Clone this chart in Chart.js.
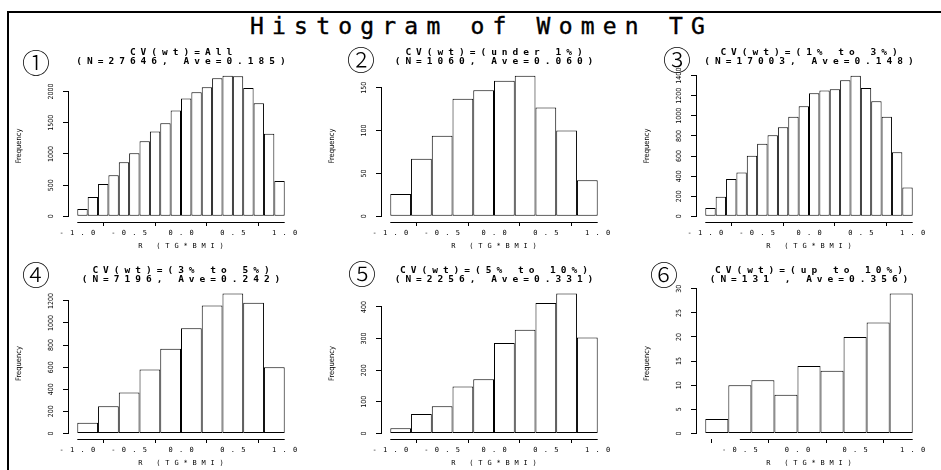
<!DOCTYPE html>
<html>
<head>
<meta charset="utf-8">
<script src="https://cdn.jsdelivr.net/npm/chart.js@4.4.1/dist/chart.umd.min.js"></script>
<style>
  html, body { margin: 0; padding: 0; background: #fff; }
  body { position: relative; width: 941px; height: 470px; overflow: hidden; }
  #frame { position: absolute; left: 7px; top: 11px; width: 960px; height: 480px;
           border-top: 2px solid #000; border-left: 2px solid #000; }
  #title { position: absolute; left: 11px; top: 15px; width: 941px; text-align: center;
           font: 23px/22px "DejaVu Sans Mono", monospace; letter-spacing: 8.2px; white-space: pre; color: #000;
           -webkit-text-stroke: 0.4px #000; }
  .panel { position: absolute; }
  .num { position: absolute; width: 40px; height: 40px; line-height: 40px; text-align: center;
         font-size: 28px; font-weight: 300; font-family: "Noto Sans CJK JP", "DejaVu Sans", sans-serif; color: #000; z-index: 2; }
</style>
</head>
<body>
<div id="frame"></div>
<div id="title">Histogram of Women TG</div>
<div id="charts"></div>
<script>
// bin centres (width 0.1 or 0.2)
const bins20 = [-0.95, -0.85, -0.75, -0.65, -0.55, -0.45, -0.35, -0.25, -0.15, -0.05,
                0.05, 0.15, 0.25, 0.35, 0.45, 0.55, 0.65, 0.75, 0.85, 0.95];
const bins10 = [-0.9, -0.7, -0.5, -0.3, -0.1, 0.1, 0.3, 0.5, 0.7, 0.9];
const bins9 = [-0.7, -0.5, -0.3, -0.1, 0.1, 0.3, 0.5, 0.7, 0.9];

// frequencies
const countsAll = [117, 309, 517, 661, 869, 1013, 1205, 1360, 1493, 1696,
                   1888, 1989, 2069, 2213, 2256, 2245, 2059, 1813, 1323, 565];
const countsUnder1 = [26, 67, 94, 137, 147, 158, 164, 127, 100, 42];
const counts1to3 = [83, 195, 371, 437, 602, 722, 808, 887, 990, 1096,
                    1225, 1252, 1265, 1354, 1400, 1278, 1146, 990, 639, 288];
const counts3to5 = [96, 247, 371, 579, 766, 953, 1158, 1266, 1182, 600];
const counts5to10 = [16, 61, 86, 148, 171, 286, 328, 412, 442, 303];
const countsUp10 = [3, 10, 11, 8, 14, 13, 20, 23, 29];

// axis ticks
const xTicksFull = [-1, -0.5, 0, 0.5, 1];
const xLabelsFull = ['-1.0', '-0.5', '0.0', '0.5', '1.0'];
const xTicksShort = [-0.5, 0, 0.5, 1];
const xLabelsShort = ['-0.5', '0.0', '0.5', '1.0'];
const xLimFull = [-1, 1];
const xLimShort = [-0.8, 1];
const yTicksAll = [0, 500, 1000, 1500, 2000];
const yTicksUnder1 = [0, 50, 100, 150];
const yTicks1to3 = [0, 200, 400, 600, 800, 1000, 1200, 1400];
const yTicks3to5 = [0, 200, 400, 600, 800, 1000, 1200];
const yTicks5to10 = [0, 100, 200, 300, 400];
const yTicksUp10 = [0, 5, 10, 15, 20, 25, 30];

const titleLines1 = ['CV(wt)=All', 'CV(wt)=(under 1%)', 'CV(wt)=(1% to 3%)',
                     'CV(wt)=(3% to 5%)', 'CV(wt)=(5% to 10%)', 'CV(wt)=(up to 10%)'];
const titleLines2 = ['(N=27646, Ave=0.185)', '(N=1060, Ave=0.060)', '(N=17003, Ave=0.148)',
                     '(N=7196, Ave=0.242)', '(N=2256, Ave=0.331)', '(N=131 , Ave=0.356)'];
const panelNums = ['①', '②', '③', '④', '⑤', '⑥'];
const xTitle = 'R (TG*BMI)';
const yTitle = 'Frequency';

const panels = [
  { bins: bins20, counts: countsAll, xLim: xLimFull, xTicks: xTicksFull, xLabels: xLabelsFull, yTicks: yTicksAll },
  { bins: bins10, counts: countsUnder1, xLim: xLimFull, xTicks: xTicksFull, xLabels: xLabelsFull, yTicks: yTicksUnder1 },
  { bins: bins20, counts: counts1to3, xLim: xLimFull, xTicks: xTicksFull, xLabels: xLabelsFull, yTicks: yTicks1to3 },
  { bins: bins10, counts: counts3to5, xLim: xLimFull, xTicks: xTicksFull, xLabels: xLabelsFull, yTicks: yTicks3to5 },
  { bins: bins10, counts: counts5to10, xLim: xLimFull, xTicks: xTicksFull, xLabels: xLabelsFull, yTicks: yTicks5to10 },
  { bins: bins9, counts: countsUp10, xLim: xLimShort, xTicks: xTicksShort, xLabels: xLabelsShort, yTicks: yTicksUp10 },
];

// plot-area placement on the page: left, top, height
const areas = [[69, 70, 152], [382, 70, 152], [697, 70, 152], [69, 288, 151], [382, 288, 151], [697, 288, 151]];
const AREA_W = 224;
const ML = 60, MT = 30, MR = 10, MB = 34;
const numPos = [[36, 63], [361, 60], [677, 60], [36, 275], [362, 274], [664, 275]];

function spacedText(ctx, text, x, y, spacing) {
  ctx.letterSpacing = spacing + 'px';
  ctx.fillText(text, x + spacing / 2, y);
  ctx.letterSpacing = '0px';
}

function labelPlugin(p, idx) {
  return {
    id: 'histLabels' + idx,
    afterDraw(chart) {
      const { ctx, chartArea } = chart;
      const xs = chart.scales.x, ys = chart.scales.y;
      const { left, right, top, bottom } = chartArea;
      ctx.save();
      ctx.strokeStyle = '#000';
      ctx.fillStyle = '#000';
      ctx.lineWidth = 1;
      // R style axis lines, tick range only
      ctx.beginPath();
      ctx.moveTo(xs.getPixelForValue(p.xTicks[0]), Math.round(bottom) + 0.5);
      ctx.lineTo(xs.getPixelForValue(p.xTicks[p.xTicks.length - 1]), Math.round(bottom) + 0.5);
      ctx.moveTo(Math.round(left) - 0.5, ys.getPixelForValue(p.yTicks[0]));
      ctx.lineTo(Math.round(left) - 0.5, ys.getPixelForValue(p.yTicks[p.yTicks.length - 1]));
      ctx.stroke();

      ctx.textAlign = 'center';
      ctx.textBaseline = 'middle';
      // x tick labels
      ctx.font = '7px "DejaVu Sans Mono"';
      p.xTicks.forEach((v, i) => spacedText(ctx, p.xLabels[i], xs.getPixelForValue(v), bottom + 11, 6.3));
      spacedText(ctx, xTitle, (left + right) / 2, bottom + 24.5, 4.8);

      // y tick labels, rotated
      ctx.font = '7px "DejaVu Sans Condensed", "DejaVu Sans"';
      p.yTicks.forEach((v) => {
        ctx.save();
        ctx.translate(left - 18, ys.getPixelForValue(v));
        ctx.rotate(-Math.PI / 2);
        ctx.fillText(String(v), 0, 0);
        ctx.restore();
      });
      ctx.save();
      ctx.font = '7.5px "DejaVu Sans Condensed", "DejaVu Sans"';
      ctx.translate(left - 50, (top + bottom) / 2);
      ctx.rotate(-Math.PI / 2);
      ctx.fillText(yTitle, 0, 0);
      ctx.restore();

      // panel title
      ctx.font = 'bold 9.5px "DejaVu Sans Mono"';
      spacedText(ctx, titleLines1[idx], (left + right) / 2, top - 17.5, 5.0);
      spacedText(ctx, titleLines2[idx], (left + right) / 2, top - 8.5, 5.0);
      ctx.restore();
    },
  };
}

const holder = document.getElementById('charts');
panels.forEach((p, idx) => {
  const [aLeft, aTop, aH] = areas[idx];
  const W = AREA_W + ML + MR, H = aH + MT + MB;
  const div = document.createElement('div');
  div.className = 'panel';
  div.style.left = (aLeft - ML) + 'px';
  div.style.top = (aTop - MT) + 'px';
  const canvas = document.createElement('canvas');
  canvas.width = W;
  canvas.height = H;
  canvas.style.width = W + 'px';
  canvas.style.height = H + 'px';
  div.appendChild(canvas);
  holder.appendChild(div);

  const num = document.createElement('div');
  num.className = 'num';
  num.textContent = panelNums[idx];
  num.style.left = (numPos[idx][0] - 20) + 'px';
  num.style.top = (numPos[idx][1] - 21) + 'px';
  holder.appendChild(num);

  // R-like 4% axis extension
  const xSpan = p.xLim[1] - p.xLim[0];
  const yTop = Math.max(...p.counts);

  new Chart(canvas, {
    type: 'bar',
    data: {
      datasets: [{
        data: p.bins.map((b, i) => ({ x: b, y: p.counts[i] })),
        backgroundColor: '#fff',
        borderColor: '#000',
        borderWidth: 1,
        borderSkipped: false,
        inflateAmount: 0,
        barPercentage: 1,
        categoryPercentage: 1,
      }],
    },
    options: {
      responsive: false,
      animation: false,
      events: [],
      layout: { padding: { left: 0, top: MT, right: MR, bottom: 0 } },
      plugins: { legend: { display: false }, tooltip: { enabled: false }, title: { display: false } },
      scales: {
        x: {
          type: 'linear',
          min: p.xLim[0] - 0.04 * xSpan,
          max: p.xLim[1] + 0.04 * xSpan,
          offset: false,
          afterBuildTicks: (s) => { s.ticks = p.xTicks.map((v) => ({ value: v })); },
          afterFit: (s) => { s.height = MB; },
          ticks: { display: false },
          grid: { display: true, drawOnChartArea: false, drawTicks: true, tickLength: 4, color: '#000', lineWidth: 1 },
          border: { display: false },
        },
        y: {
          type: 'linear',
          min: -0.04 * yTop,
          max: 1.04 * yTop,
          afterBuildTicks: (s) => { s.ticks = p.yTicks.map((v) => ({ value: v })); },
          afterFit: (s) => { s.width = ML; },
          ticks: { display: false },
          grid: { display: true, drawOnChartArea: false, drawTicks: true, tickLength: 6, color: '#000', lineWidth: 1 },
          border: { display: false },
        },
      },
    },
    plugins: [labelPlugin(p, idx)],
  });
});
</script>
</body>
</html>
